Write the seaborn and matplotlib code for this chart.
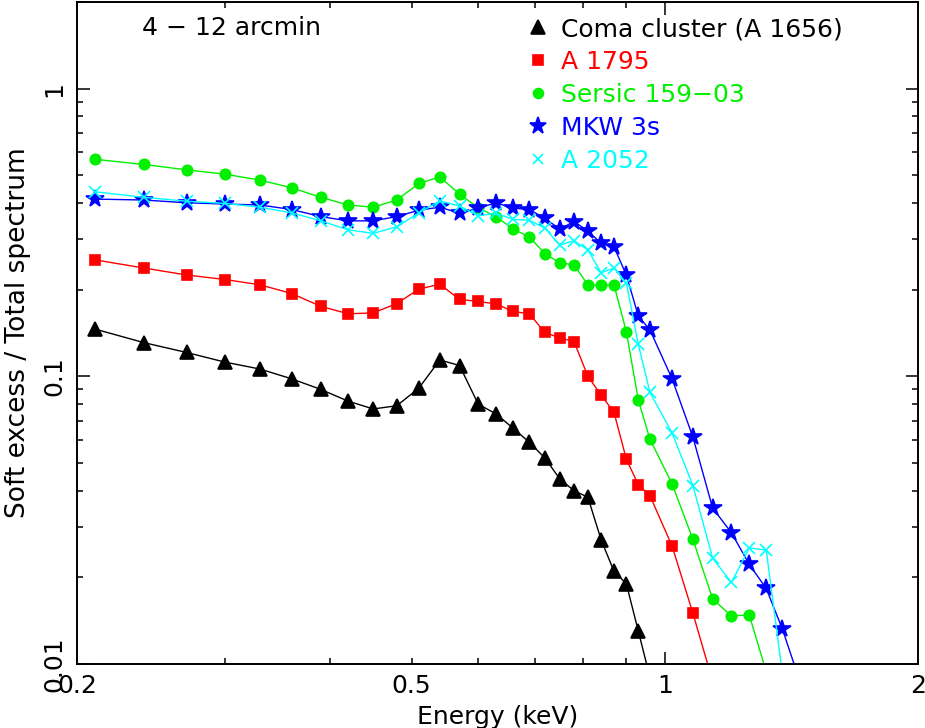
import numpy as np
import pandas as pd
import matplotlib
matplotlib.use("Agg")
import matplotlib.pyplot as plt
from matplotlib.lines import Line2D
from matplotlib.ticker import FixedLocator, FixedFormatter, LogLocator, NullFormatter
import seaborn as sns

# energy grid (keV) shared by all clusters
energy = [0.21, 0.24, 0.27, 0.30, 0.33, 0.36, 0.39, 0.42, 0.45, 0.48, 0.51, 0.54,
          0.57, 0.60, 0.63, 0.66, 0.69, 0.72, 0.75, 0.78, 0.81, 0.84, 0.87, 0.90,
          0.93, 0.96, 1.02, 1.08, 1.14, 1.20, 1.26, 1.32, 1.38, 1.44]

coma = [0.146, 0.131, 0.121, 0.112, 0.106, 0.098, 0.090, 0.082, 0.077, 0.079, 0.091, 0.114,
        0.109, 0.080, 0.074, 0.066, 0.059, 0.052, 0.044, 0.040, 0.038, 0.027, 0.021, 0.019,
        0.013, 0.009]
a1795 = [0.254, 0.238, 0.225, 0.217, 0.208, 0.194, 0.175, 0.165, 0.166, 0.179, 0.201, 0.209,
         0.185, 0.182, 0.1785, 0.168, 0.165, 0.142, 0.136, 0.132, 0.100, 0.086, 0.075, 0.0515,
         0.042, 0.0385, 0.0257, 0.015, 0.0087]
sersic = [0.568, 0.545, 0.522, 0.504, 0.481, 0.452, 0.419, 0.394, 0.387, 0.410, 0.468, 0.493,
          0.430, 0.385, 0.359, 0.325, 0.305, 0.267, 0.248, 0.244, 0.208, 0.207, 0.208, 0.143,
          0.0826, 0.0605, 0.0423, 0.0271, 0.0168, 0.0147, 0.0148, 0.0094]
mkw3s = [0.413, 0.410, 0.401, 0.397, 0.394, 0.380, 0.359, 0.347, 0.347, 0.359, 0.378, 0.387,
         0.369, 0.384, 0.401, 0.384, 0.380, 0.354, 0.325, 0.345, 0.320, 0.290, 0.282, 0.225,
         0.162, 0.145, 0.098, 0.0614, 0.0348, 0.0286, 0.0222, 0.0183, 0.0132, 0.0091]
a2052 = [0.438, 0.419, 0.406, 0.399, 0.387, 0.370, 0.347, 0.323, 0.314, 0.331, 0.370, 0.407,
         0.391, 0.361, 0.369, 0.351, 0.349, 0.327, 0.286, 0.296, 0.275, 0.229, 0.238, 0.211,
         0.129, 0.088, 0.0635, 0.0417, 0.0233, 0.0192, 0.0253, 0.0249, 0.0092]

names = ["Coma cluster (A 1656)", "A 1795", "Sersic 159\u221203", "MKW 3s", "A 2052"]
series = [coma, a1795, sersic, mkw3s, a2052]
colors = ["black", "#ff0000", "#00f000", "#0000ff", "#00ffff"]
markers = ["^", "s", "o", "*", "x"]
msizes = [10.5, 7, 7.5, 13, 8]

sns.set_style("ticks")
plt.rcParams["font.family"] = ["DejaVu Sans"]
plt.rcParams["text.color"] = "black"
plt.rcParams["axes.labelcolor"] = "black"

fig = plt.figure(figsize=(9.25, 7.28), dpi=100)
ax = fig.add_axes([77 / 925, 1 - 664 / 728, 841 / 925, 662 / 728])

for name, vals, c, m, ms in zip(names, series, colors, markers, msizes):
    df = pd.DataFrame({"energy": energy[:len(vals)], "ratio": vals})
    sns.lineplot(data=df, x="energy", y="ratio", ax=ax, color=c, marker=m,
                 markersize=ms, markeredgecolor=c, markeredgewidth=1.2,
                 linewidth=1.0, sort=False, legend=False)

ax.set_xscale("log")
ax.set_yscale("log")
ax.set_xlim(0.2, 2)
ax.set_ylim(0.01, 2)

# x axis: long tick at 1, short ticks elsewhere, labels at 0.2, 0.5, 1, 2
ax.xaxis.set_major_locator(FixedLocator([1.0]))
ax.xaxis.set_major_formatter(FixedFormatter(["1"]))
xminor = [0.2, 0.3, 0.4, 0.5, 0.6, 0.7, 0.8, 0.9, 2.0]
ax.xaxis.set_minor_locator(FixedLocator(xminor))
ax.xaxis.set_minor_formatter(FixedFormatter(["0.2", "", "", "0.5", "", "", "", "", "2"]))

ax.yaxis.set_major_locator(FixedLocator([0.01, 0.1, 1.0]))
ax.yaxis.set_major_formatter(FixedFormatter(["0.01", "0.1", "1"]))
ax.yaxis.set_minor_locator(LogLocator(base=10, subs=range(2, 10), numticks=20))
ax.yaxis.set_minor_formatter(NullFormatter())

ax.tick_params(which="both", direction="in", top=True, right=True, width=1.1,
               labelsize=18, colors="black")
ax.tick_params(which="major", length=9)
ax.tick_params(which="minor", length=4.5)
ax.tick_params(axis="x", which="both", pad=7)
ax.tick_params(axis="y", which="both", pad=8, labelrotation=90)
for lab in ax.get_yticklabels():
    lab.set_va("center")
for sp in ax.spines.values():
    sp.set_linewidth(1.4)
    sp.set_color("black")

ax.set_xlabel("Energy (keV)", fontsize=18, labelpad=5)
ax.set_ylabel("Soft excess / Total spectrum", fontsize=19, labelpad=8)

ax.text(0.077, 0.961, "4 \u2212 12 arcmin", transform=ax.transAxes, fontsize=18,
        ha="left", va="center")

handles = [Line2D([], [], ls="none", marker=m, color=c, markeredgecolor=c,
                  markersize=ms * 0.95, markeredgewidth=1.2)
           for c, m, ms in zip(colors, markers, msizes)]
ax.legend(handles, names, loc="upper left", bbox_to_anchor=(0.519, 1.0),
          frameon=False, fontsize=18, labelcolor=colors, handlelength=0.8,
          handletextpad=0.52, labelspacing=0.36, borderaxespad=0.2)

fig.savefig("out.png", dpi=100)
